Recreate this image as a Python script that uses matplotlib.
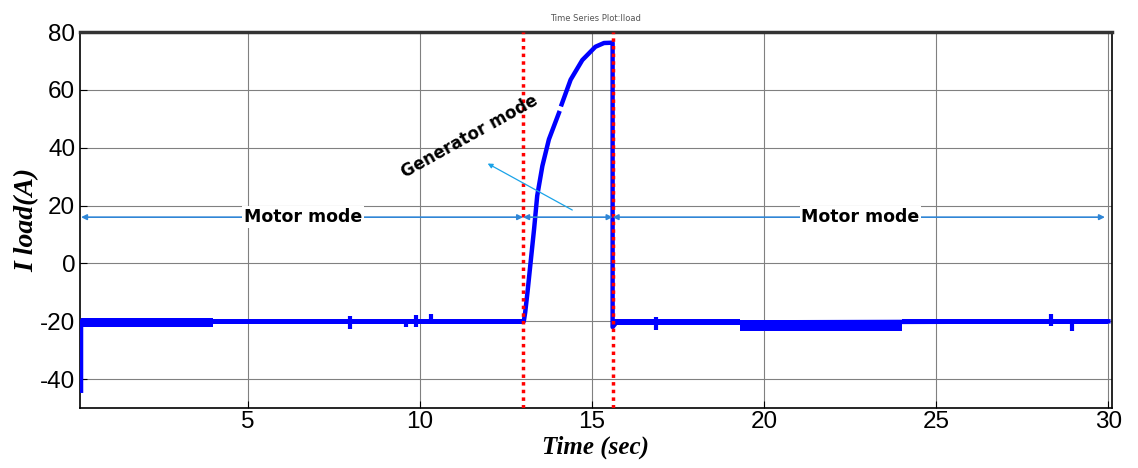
import numpy as np
import matplotlib
matplotlib.use("Agg")
import matplotlib.pyplot as plt

plt.rcParams["axes.unicode_minus"] = False

# main current trace (keypoints, nan = small gap in trace)
t_main = [0.16, 0.16, 0.25, 13.02, 13.06, 13.13, 13.22, 13.32, 13.41, 13.56, 13.75, 14.04, np.nan,
          14.12, 14.38, 14.72, 15.1, 15.35, 15.58, 15.6, 15.6, 15.7, 30.0]
i_main = [-44, -20, -20.2, -20, -17, -9.7, 0.6, 12, 23.4, 33.7, 42.9, 52, np.nan,
          55, 63.5, 70.3, 74.9, 76.2, 76.3, 76.3, -22, -20.5, -20]

# ripple bands: (t_start, t_end, low, high)
band_t0 = [0.16, 4.0, 15.65, 19.3, 24.0]
band_t1 = [4.0, 13.0, 19.3, 24.0, 30.0]
band_lo = [-21.8, -20.8, -21.2, -23.2, -20.8]
band_hi = [-19.0, -19.3, -19.3, -19.4, -19.3]

# short spikes: time, low, high
spike_t = [7.96, 9.6, 9.9, 10.33, 16.85, 28.33, 28.94]
spike_lo = [-22.5, -22.0, -22.0, -21.0, -23.0, -21.5, -23.2]
spike_hi = [-18.0, -19.5, -17.8, -17.6, -18.6, -17.5, -20.0]

# mode boundaries
t_switch = [13.0, 15.6]
arrow_y = 16
x_ticks = [5, 10, 15, 20, 25, 30]
y_ticks = [-40, -20, 0, 20, 40, 60, 80]

fig = plt.figure(figsize=(11.38, 4.68), dpi=100)
ax = fig.add_axes([0.0703, 0.128, 0.9067, 0.8036])

blue = "#0000ff"
for a, b, lo, hi in zip(band_t0, band_t1, band_lo, band_hi):
    ax.fill_between([a, b], [lo, lo], [hi, hi], color=blue, lw=0, zorder=3)
ax.plot(t_main, i_main, color=blue, lw=3.2, zorder=4)
ax.vlines(spike_t, spike_lo, spike_hi, color=blue, lw=3, zorder=4)

for ts in t_switch:
    ax.axvline(ts, color="red", ls=(0, (1, 1.2)), lw=2.5, zorder=5)

arrow_col = "#2f86d6"
spans = [(0.16, t_switch[0]), (t_switch[0], t_switch[1]), (t_switch[1], 29.9)]
for a, b in spans:
    ax.annotate("", xy=(a, arrow_y), xytext=(b, arrow_y),
                arrowprops=dict(arrowstyle="<|-|>", color=arrow_col, lw=1.2,
                                mutation_scale=8, shrinkA=0, shrinkB=0), zorder=6)

for xm in [6.6, 22.8]:
    ax.text(xm, arrow_y, "Motor mode", ha="center", va="center", fontsize=12.5,
            fontweight="bold", family="DejaVu Sans",
            bbox=dict(boxstyle="square,pad=0.1", fc="white", ec="none"), zorder=7)
ax.text(11.45, 44, "Generator mode", ha="center", va="center", fontsize=12,
        fontweight="bold", rotation=29, family="DejaVu Sans", zorder=7)
ax.annotate("", xy=(11.9, 35), xytext=(14.5, 18),
            arrowprops=dict(arrowstyle="-|>", color="#1aa3e8", lw=0.9,
                            mutation_scale=7), zorder=6)

ax.set_xlim(0.13, 30.1)
ax.set_ylim(-50, 80)
ax.set_xticks(x_ticks)
ax.set_yticks(y_ticks)
ax.grid(True, color="#808080", lw=0.8)
ax.tick_params(direction="in", labelsize=17.5, length=5)
ax.tick_params(axis="x", pad=2)
for lab in ax.get_xticklabels() + ax.get_yticklabels():
    lab.set_family("Liberation Sans")
for sp in ax.spines.values():
    sp.set_linewidth(1.2)
ax.spines["top"].set_color("#333333")
ax.spines["top"].set_linewidth(2.5)

ax.set_xlabel("Time (sec)", family="Liberation Serif", fontsize=18,
              fontweight="bold", style="italic", labelpad=2)
ax.set_ylabel("I load(A)", family="Liberation Serif", fontsize=20,
              fontweight="bold", style="italic", labelpad=0)
ax.set_title("Time Series Plot:Iload", fontsize=6, color="#555555", pad=8)

fig.savefig("out.png", dpi=100)
